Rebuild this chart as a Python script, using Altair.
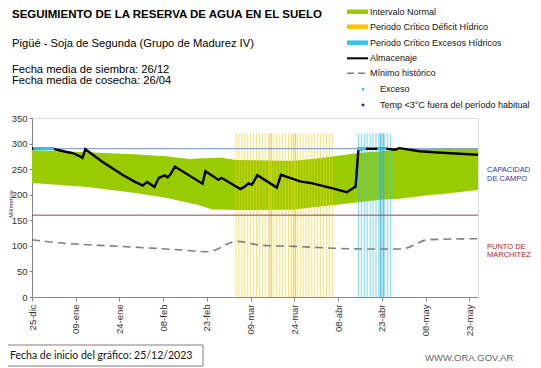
import altair as alt
import pandas as pd

# ---------------- data (days since 25/12/2023) ----------------
alm_day = [0, 7, 10, 12, 14, 16.5, 17.3, 18.3, 24, 31, 35, 38, 39.5, 42, 43.5, 45.5, 46.5, 47.5, 49,
           58.5, 59.5, 64, 65, 71.5, 73, 74.3, 75.4, 77.3, 84, 85.4, 92, 95.5, 103.5, 108, 111, 112,
           113, 114, 118, 120, 124.5, 126, 133, 142, 153]
alm_val = [290, 290, 286, 283.5, 281.5, 275, 272, 289, 265, 239, 226, 218, 225, 215, 233, 238, 234, 240, 255,
           221.5, 246, 229, 233, 211, 216, 222, 219.5, 238, 214, 239, 226, 223, 212, 205, 216, 290,
           289, 290, 290, 291, 288, 291, 285, 281.5, 278]

band_day = [0, 19, 35, 46, 54, 57, 62, 64.5, 70, 87, 90, 99, 112, 119.5, 126, 137, 140, 153]
band_hi = [287, 283, 279, 275, 270, 271, 272, 273, 268, 266.5, 266.5, 272, 281.5, 285, 288, 289.5, 290, 290]
band_lo = [223, 215, 204, 194, 184, 180, 171, 171, 170, 170.5, 171, 177, 185.5, 190, 192, 200, 201, 209]

min_day = [0, 10, 23, 36.5, 50, 60.4, 70.2, 79, 90, 101.6, 113, 126.8, 136, 153]
min_val = [112, 105.5, 101, 97, 92.5, 88.5, 108.7, 101, 99, 95.8, 94, 94, 112, 114]

deficit_days = [70, 71, 72, 73, 74, 75, 76, 77, 78, 79, 80, 81, 82, 83, 84, 85, 86, 87, 88, 89, 90,
                91, 92, 93, 94, 95, 96, 97, 98, 99, 100, 101, 102, 103]
deficit_strong = [81.5, 82.2, 89.6, 90.4]
exceso_h_days = [112, 113, 114, 115, 116, 117, 118, 119, 120, 121, 122, 123]
exceso_h_strong = [119.5, 120.5]

exceso_days = [1, 2, 3, 4, 5, 6, 7, 112, 113, 114, 119, 120, 121]
exceso_val = [290, 290, 290, 290, 290, 290, 290, 290, 290, 290, 290, 290, 290]

capacidad_campo = 290
punto_marchitez = 160
period_top = 320

tick_days = [0, 15, 30, 45, 60, 75, 90, 105, 120, 135, 150]
tick_labels = ['25-dic', '09-ene', '24-ene', '08-feb', '23-feb', '09-mar', '24-mar',
               '08-abr', '23-abr', '08-may', '23-may']
y_ticks = [0, 50, 100, 150, 200, 250, 300, 350]

legend_labels = ['Intervalo Normal', 'Periodo Crítico Déficit Hídrico', 'Periodo Crítico Excesos Hídricos',
                 'Almacenaje', 'Mínimo histórico', 'Exceso', 'Temp <3°C fuera del período habitual']

# ---------------- frames ----------------
alm = pd.DataFrame({'day': alm_day, 'val': alm_val})
band = pd.DataFrame({'day': band_day, 'hi': band_hi, 'lo': band_lo})
mins = pd.DataFrame({'day': min_day, 'val': min_val})
defi = pd.DataFrame({'day': deficit_days})
defi_s = pd.DataFrame({'day': deficit_strong})
exh = pd.DataFrame({'day': exceso_h_days})
exh_s = pd.DataFrame({'day': exceso_h_strong})
exc = pd.DataFrame({'day': exceso_days, 'val': exceso_val})

FONT = 'Liberation Sans'
xs = alt.Scale(domain=[0, 153], nice=False, zero=False)
ys = alt.Scale(domain=[0, 350], nice=False)

lab_arr = '[' + ','.join("'%s'" % t for t in tick_labels) + ']'
day_arr = '[' + ','.join(str(d) for d in tick_days) + ']'

xaxis = alt.Axis(values=tick_days, labelExpr=lab_arr + '[indexof(' + day_arr + ', datum.value)]',
                 labelAngle=-90, labelFontSize=9.5, labelColor='#333', grid=False, title=None,
                 domainColor='#888', tickColor='#888', tickSize=4, labelPadding=3, labelFont=FONT,
                 labelOverlap=False)
yaxis = alt.Axis(values=y_ticks, labelFontSize=9.5, labelColor='#333',
                 grid=False, title=None, domainColor='#888', tickColor='#888', tickSize=3,
                 labelPadding=2, labelFont=FONT, labelOverlap=False)


def X(field):
    return alt.X(field, scale=xs, axis=xaxis)


def Y(field):
    return alt.Y(field, scale=ys, axis=yaxis)


def Yd(v):
    return alt.Y(datum=v, scale=ys, axis=yaxis)


base_band = alt.Chart(band).mark_area(color='#99cc00', opacity=1).encode(
    x=X('day:Q'), y=Y('hi:Q'), y2='lo:Q')

defi_l = alt.Chart(defi).mark_rule(color='#f2d22a', strokeWidth=1.1, opacity=0.6).encode(
    x=X('day:Q'), y=Yd(0), y2=alt.datum(period_top))
defi_sl = alt.Chart(defi_s).mark_rule(color='#f5c800', strokeWidth=1.1, opacity=0.7).encode(
    x=X('day:Q'), y=Yd(0), y2=alt.datum(period_top))
exh_l = alt.Chart(exh).mark_rule(color='#38c2e0', strokeWidth=1.1, opacity=0.6).encode(
    x=X('day:Q'), y=Yd(0), y2=alt.datum(period_top))
exh_sl = alt.Chart(exh_s).mark_rule(color='#2aa8c8', strokeWidth=1.1, opacity=0.8).encode(
    x=X('day:Q'), y=Yd(0), y2=alt.datum(period_top))

cc_line = alt.Chart(pd.DataFrame({'v': [capacidad_campo]})).mark_rule(color='#7090cc', strokeWidth=1).encode(
    y=Y('v:Q'), x=alt.value(0), x2=alt.value(446))
pm_line = alt.Chart(pd.DataFrame({'v': [punto_marchitez]})).mark_rule(color='#b03a3a', strokeWidth=1).encode(
    y=Y('v:Q'), x=alt.value(0), x2=alt.value(446))

min_l = alt.Chart(mins).mark_line(color='#7f7f7f', strokeWidth=1.6, strokeDash=[8, 5],
                                  interpolate='monotone').encode(x=X('day:Q'), y=Y('val:Q'))
alm_l = alt.Chart(alm).mark_line(color='#000', strokeWidth=2.4).encode(x=X('day:Q'), y=Y('val:Q'))
exc_p = alt.Chart(exc).mark_point(shape='square', filled=True, color='#2ec4ee', size=10, opacity=1).encode(
    x=X('day:Q'), y=Y('val:Q'))

layers = [base_band, defi_l, defi_sl, exh_l, exh_sl, cc_line, pm_line, min_l, alm_l, exc_p]

# ---------------- text and legend (pixel positions relative to plot area) ----------------
def txt(s, x, y, size, color='#000', weight='normal', font=FONT, align='left', angle=0):
    return alt.Chart(pd.DataFrame({'t': [s]})).mark_text(
        align=align, baseline='middle', fontSize=size, color=color, fontWeight=weight, font=font,
        angle=angle).encode(text='t:N', x=alt.value(x), y=alt.value(y))

def hbar(x1, x2, y, color, width, dash=None):
    kw = dict(color=color, strokeWidth=width)
    if dash:
        kw['strokeDash'] = dash
    return alt.Chart(pd.DataFrame({'a': [0]})).mark_rule(**kw).encode(
        x=alt.value(x1), x2=alt.value(x2), y=alt.value(y))

def pt(x, y, shape, color, size):
    return alt.Chart(pd.DataFrame({'a': [0]})).mark_point(shape=shape, filled=True, color=color,
                                                          size=size, opacity=1).encode(
        x=alt.value(x), y=alt.value(y))

layers += [
    txt('SEGUIMIENTO DE LA RESERVA DE AGUA  EN EL SUELO', -20, -103, 11.5, weight='bold'),
    txt('Pigüé - Soja de Segunda  (Grupo de Madurez IV)', -20, -74, 11.2),
    txt('Fecha media de siembra: 26/12', -20, -48.5, 11.2),
    txt('Fecha media de cosecha: 26/04', -20, -37.5, 11.2),
    txt('Milímetros', -21.5, 86, 6, color='#333', angle=270, align='center'),
    txt('CAPACIDAD', 455, 52, 7.5, color='#3535a5'),
    txt('DE  CAMPO', 455, 60.5, 7.5, color='#3535a5'),
    txt('PUNTO   DE', 455, 129, 7.5, color='#c02020'),
    txt('MARCHITEZ', 455, 136.5, 7.5, color='#c02020'),
]

rows = [-106.3, -91.3, -75.3, -59.7, -44.7, -28.7, -13]
layers += [
    hbar(315, 336, rows[0], '#99cc00', 4.5),
    hbar(315, 336, rows[1], '#ffc000', 4.5),
    hbar(315, 336, rows[2], '#2ec4ee', 4.5),
    hbar(315, 336, rows[3], '#000', 2),
    hbar(315, 334, rows[4], '#7f7f7f', 1.6, [7, 4]),
    pt(331, rows[5], 'square', '#2ec4ee', 6),
    pt(331, rows[6], 'diamond', '#1a2aa0', 14),
]
for i, lab in enumerate(legend_labels):
    lx = 338 if i < 5 else 348
    layers.append(txt(lab, lx, rows[i], 9, color='#111'))

# bottom box
box = alt.Chart(pd.DataFrame({'a': [0]})).mark_rect(fill='white', stroke='#8a7a7a', strokeWidth=1).encode(
    x=alt.value(-27), x2=alt.value(171), y=alt.value(227), y2=alt.value(248))
layers += [
    box,
    txt('Fecha de inicio del gráfico:  25/12/2023', -22, 237.5, 10.5, color='#111', font='Lato'),
    txt('WWW.ORA.GOV.AR', 393, 240, 9.5, color='#666'),
]

chart = alt.layer(*layers).properties(
    width=446, height=179,
    padding={'left': 24, 'top': 110, 'right': 55, 'bottom': 71},
    autosize='none', background='white'
).configure_view(strokeWidth=0).configure(font=FONT)

chart.save('out.html', embed_options={'renderer': 'svg', 'actions': False})
